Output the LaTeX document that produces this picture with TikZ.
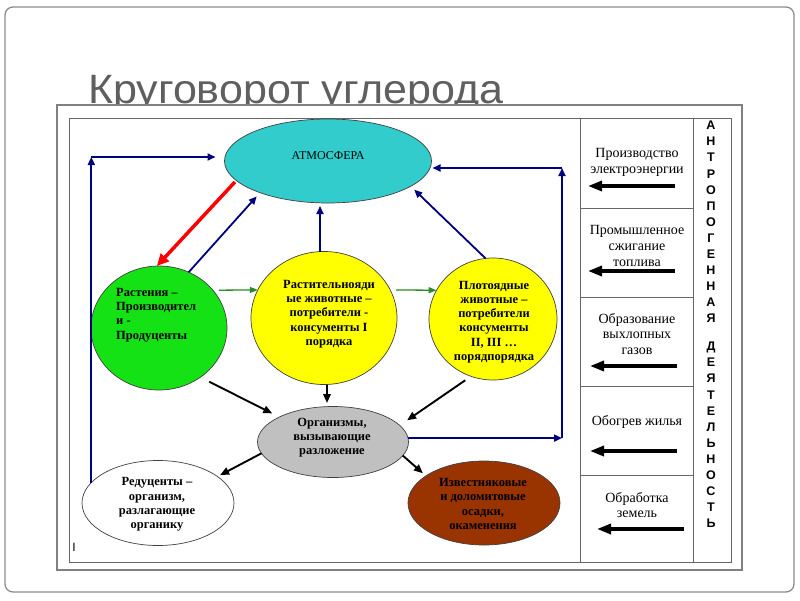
\documentclass[tikz,border=0pt]{standalone}
\usepackage{fontspec}
\setmainfont{Liberation Serif}
\newfontfamily\sansf{Liberation Sans}
\usetikzlibrary{arrows.meta,shapes.geometric}
\definecolor{atmc}{RGB}{51,204,204}
\definecolor{plantc}{RGB}{20,226,20}
\definecolor{yelc}{RGB}{255,255,0}
\definecolor{grayc}{RGB}{192,192,192}
\definecolor{brownc}{RGB}{153,51,0}
\definecolor{navyc}{RGB}{0,0,128}
\definecolor{garr}{RGB}{40,140,40}
\definecolor{titlec}{RGB}{95,95,95}
\begin{document}
\begin{tikzpicture}[x=1pt,y=-1pt,
  blob/.style={ellipse, draw=black!75, line width=0.7pt, inner sep=0pt, outer sep=0pt},
  btext/.style={font=\fontsize{12.5}{14.3}\selectfont\bfseries, align=center, inner sep=0pt},
  ptext/.style={font=\fontsize{14}{15.8}\selectfont, align=center, inner sep=0pt},
  vtext/.style={font=\sansf\bfseries\fontsize{12.5}{16.1}\selectfont, align=center, inner sep=0pt},
  navyarrow/.style={draw=navyc, line width=1.8pt, -{Triangle[length=8pt,width=7pt]}},
  redarrow/.style={draw=red, line width=3.5pt, -{Triangle[length=12pt,width=11pt]}},
  garrow/.style={draw=garr, line width=1.3pt, -{Triangle[length=8pt,width=6pt]}},
  blackarrow/.style={draw=black, line width=1.9pt, -{Triangle[length=9pt,width=7.5pt]}},
  panelarrow/.style={draw=black, line width=3.3pt, -{Triangle[length=14pt,width=10pt]}},
  framebox/.style={draw=black!60, line width=0.8pt}
]
\useasboundingbox (0,0) rectangle (800,600);
\fill[white] (0,0) rectangle (800,600);
\draw[draw=black!45, line width=1.3pt, rounded corners=8pt] (5,7) rectangle (794,592);
% title
\node[anchor=base west, text=titlec, font=\sansf\fontsize{41}{41}\selectfont, inner sep=0pt] (title) at (88,103) {\scalebox{1.05}[1]{Круговорот углерода}};
% frames
\draw[fill=white, draw=black!50, line width=1.2pt] (57,105) rectangle (742,570);
\draw[framebox] (69,118) rectangle (731,562);
\draw[framebox] (580,118) -- (580,562) (693,118) -- (693,562);
\foreach \yy in {208,297,386,475} \draw[framebox] (580,\yy) -- (693,\yy);
% ellipses
\node[blob, fill=atmc, minimum width=207pt, minimum height=84pt] (atm) at (328,161) {};
\node[font=\fontsize{12}{14}\selectfont, inner sep=0pt] (atmtxt) at (328,156) {АТМОСФЕРА};
\node[blob, fill=plantc, minimum width=136pt, minimum height=124pt] (plant) at (159,328) {};
\node[btext, align=left, anchor=west] (planttxt) at (116,315) {Растения –\\Производител\\и -\\Продуценты};
\node[blob, fill=yelc, minimum width=146pt, minimum height=133pt] (herb) at (324,318) {};
\node[btext] (herbtxt) at (329,314) {Растительнояди\\ые животные –\\потребители -\\консументы I\\порядка};
\node[blob, fill=yelc, minimum width=128pt, minimum height=122pt] (carn) at (493,319) {};
\node[btext] (carntxt) at (494,322) {Плотоядные\\животные –\\потребители\\консументы\\II, III …\\порядпорядка};
\node[blob, fill=grayc, minimum width=151pt, minimum height=71pt] (decomp) at (333,442) {};
\node[btext] (decomptxt) at (332,437.5) {Организмы,\\вызывающие\\разложение};
\node[blob, fill=white, minimum width=152pt, minimum height=85pt] (redu) at (158,503) {};
\node[btext] (redutxt) at (157,504.5) {Редуценты –\\организм,\\разлагающие\\органику};
\node[blob, fill=brownc, minimum width=152pt, minimum height=84pt] (sed) at (484,503) {};
\node[btext] (sedtxt) at (483,504) {Известняковые\\и доломитовые\\осадки,\\окаменения};
% connectors
\draw[redarrow, shorten <=2pt] (atm.192) -- (plant.92);
\draw[navyarrow, shorten >=5pt] (plant.62) -- (atm.205);
\draw[navyarrow, shorten >=3pt] ([xshift=-4pt]herb.north) -- ([xshift=-4pt]herb.north |- atm.south);
\draw[navyarrow, shorten >=5pt] (carn.97) -- (atm.343);
\coordinate (lc) at (91,157);
\draw[navyarrow] (redu.163) -- (redu.163 |- lc);
\draw[navyarrow, shorten >=9pt] (lc) -- (atm.west |- lc);
\coordinate (rc) at (562,168);
\draw[navyarrow] (decomp.3) -- (decomp.3 -| rc);
\draw[navyarrow] (decomp.3 -| rc) -- (rc);
\draw[navyarrow, shorten >=1pt] (rc) -- (atm.east |- rc);
\draw[garrow, shorten <=6pt] (plant.35) -- (herb.157);
\draw[garrow, shorten <=6pt] (herb.23) -- (carn.153);
\draw[blackarrow, shorten <=10pt, shorten >=8pt] (plant.310) -- (decomp.155);
\draw[blackarrow, shorten >=3.5pt] ([xshift=3pt]herb.south) -- ([xshift=3pt]herb.south |- decomp.north);
\draw[blackarrow, shorten <=7pt, shorten >=9pt] (carn.249) -- (decomp.14);
\draw[blackarrow, shorten >=3pt] (decomp.189) -- (redu.24);
\draw[blackarrow, shorten >=4pt] (decomp.349) -- (sed.155);
% right panel
\node[ptext] (p1) at (637,162.5) {Производство\\электроэнергии};
\node[ptext] (p2) at (637,246) {Промышленное\\сжигание\\топлива};
\node[ptext] (p3) at (637,334) {Образование\\выхлопных\\газов};
\node[ptext] (p4) at (637,422) {Обогрев жилья};
\node[ptext] (p5) at (637,505) {Обработка\\земель};
\foreach \yy/\aa/\bb in {186/675/588, 271/675/588, 366/677/590, 451/677/590, 529/684/597}
  \draw[panelarrow] (\aa,\yy) -- (\bb,\yy);
\node[vtext] (v1) at (711,222) {А\\Н\\Т\\Р\\О\\П\\О\\Г\\Е\\Н\\Н\\А\\Я};
\node[vtext] (v2) at (711,435) {Д\\Е\\Я\\Т\\Е\\Л\\Ь\\Н\\О\\С\\Т\\Ь};
\node[font=\sansf\fontsize{12}{12}\selectfont, inner sep=0pt] (cur) at (74,547) {I};
\end{tikzpicture}
\end{document}
